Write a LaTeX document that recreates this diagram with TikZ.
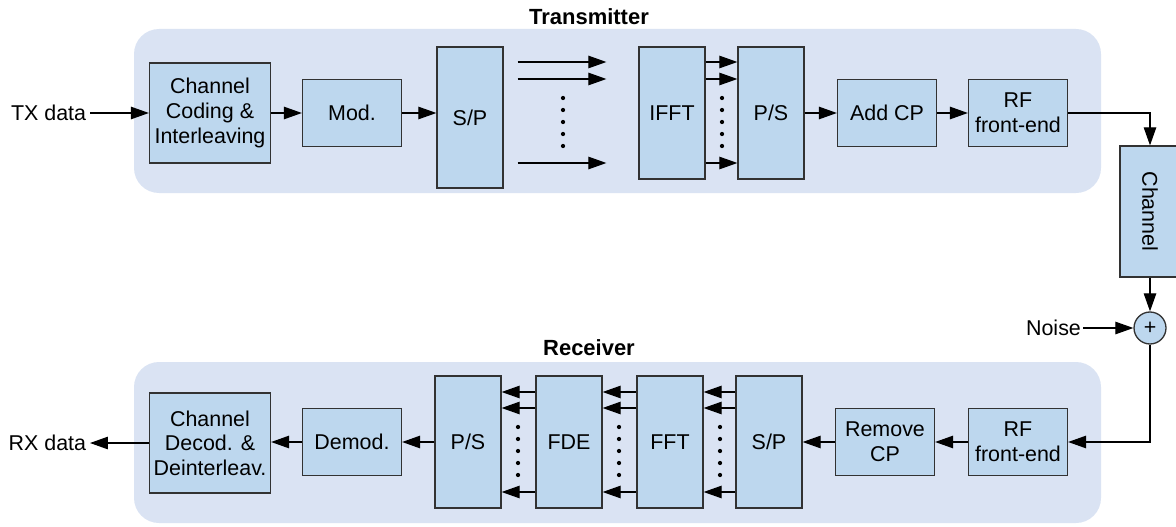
\documentclass[tikz,border=0pt]{standalone}
\usepackage{fontspec}
\setmainfont{Liberation Sans}
\usetikzlibrary{arrows.meta}

\definecolor{boxblue}{RGB}{189,215,238}
\definecolor{panelblue}{RGB}{218,227,243}
\definecolor{edgegray}{RGB}{50,50,50}

\begin{document}
\begin{tikzpicture}[
    x=0.02cm, y=-0.02cm,
    font=\fontsize{12.2}{14}\selectfont,
    block/.style={
        rectangle,
        draw=edgegray,
        line width=0.75pt,
        fill=boxblue,
        align=center,
        inner sep=1pt
    },
    wide/.style={block, minimum width=1.98cm, minimum height=1.34cm},
    tall/.style={block, minimum width=1.32cm, minimum height=2.64cm},
    coder/.style={block, minimum width=2.42cm, minimum height=2cm},
    panel/.style={fill=panelblue, rounded corners=0.5cm},
    title/.style={font=\fontsize{12.5}{14}\selectfont\bfseries},
    arrow/.style={
        -{Triangle[length=0.36cm,width=0.25cm]},
        line width=0.65pt
    },
    dot/.style={circle, fill=black, inner sep=0pt, minimum size=0.085cm}
]
\useasboundingbox (0,0) rectangle (1176,527);

% Panels
\fill[panel] (134,29) rectangle (1101,193);
\fill[panel] (134,362) rectangle (1101,523);
\node[title] (txtitle) at (589,17) {Transmitter};
\node[title] (rxtitle) at (589,348) {Receiver};

% Transmitter
\node[inner sep=2pt, anchor=east] (txdata) at (90,113) {TX data};
\node[coder] (ccod) at (210,113) {Channel\\Coding \&\\Interleaving};
\node[wide] (mod) at (352,113) {Mod.};
\node[tall, minimum height=2.82cm] (sp1) at (470,117.5) {S/P};
\node[tall] (ifft) at (672,113) {IFFT};
\node[tall] (ps1) at (771,113) {P/S};
\node[wide] (addcp) at (887,113) {Add CP};
\node[wide] (rftx) at (1018,113) {RF\\front-end};

% Channel
\node[block, minimum width=1.2cm, minimum height=2.62cm] (chan) at (1150,211.5) {\rotatebox{-90}{Channel}};
\node[block, circle, minimum size=0.64cm, inner sep=0pt] (sum) at (1150,328) {+};
\node[inner sep=1pt, anchor=east] (noise) at (1083,328) {Noise};

% Receiver
\node[inner sep=2pt, anchor=east] (rxdata) at (90,443) {RX data};
\node[coder] (cdec) at (210,443) {Channel\\Decod. \&\\Deinterleav.};
\node[wide] (demod) at (352,442) {Demod.};
\node[tall] (ps2) at (468,442) {P/S};
\node[tall] (fde) at (569,442) {FDE};
\node[tall] (fft) at (670,442) {FFT};
\node[tall] (sp2) at (769,442) {S/P};
\node[wide] (rmcp) at (885,442) {Remove\\CP};
\node[wide] (rfrx) at (1018,442) {RF\\front-end};

% Arrows
\draw[arrow] (txdata) -- (ccod);
\draw[arrow] (ccod) -- (mod);
\draw[arrow] (mod.east) -- (mod.east -| sp1.west);
\foreach \yy in {62,79,163}{
    \draw[arrow] ([xshift=0.28cm]sp1.east |- 0,\yy) -- ([xshift=-0.64cm]ifft.west |- 0,\yy);
    \draw[arrow] (ifft.east |- 0,\yy) -- (ps1.west |- 0,\yy);
}
\draw[arrow] (ps1) -- (addcp);
\draw[arrow] (addcp) -- (rftx);
\draw[arrow] (rftx.east) -| (chan.north);
\draw[arrow] (chan) -- (sum);
\draw[arrow] (noise) -- (sum);
\draw[arrow] (sum.south) |- (rfrx.east);
\draw[arrow] (rfrx) -- (rmcp);
\draw[arrow] (rmcp.west) -- (rmcp.west -| sp2.east);
\foreach \yy in {392,408,492}{
    \draw[arrow] (sp2.west |- 0,\yy) -- (fft.east |- 0,\yy);
    \draw[arrow] (fft.west |- 0,\yy) -- (fde.east |- 0,\yy);
    \draw[arrow] (fde.west |- 0,\yy) -- (ps2.east |- 0,\yy);
}
\draw[arrow] (ps2.west |- demod.east) -- (demod.east);
\draw[arrow] (demod.west) -- (demod.west -| cdec.east);
\draw[arrow] (cdec.west |- 0,443) -- (rxdata);

% Dots
\foreach \k in {0,...,4}{
    \node[dot] (ta\k) at (563,98+12*\k) {};
    \node[dot] (tb\k) at (722,98+12*\k) {};
    \node[dot] (ra\k) at (518,427+12*\k) {};
    \node[dot] (rb\k) at (619,427+12*\k) {};
    \node[dot] (rc\k) at (720,427+12*\k) {};
}

\end{tikzpicture}
\end{document}
